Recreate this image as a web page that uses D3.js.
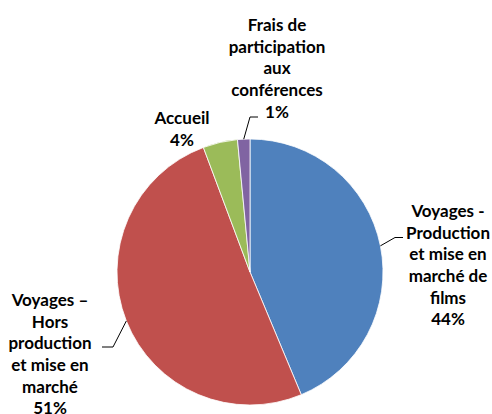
<!DOCTYPE html>
<html>
<head>
<meta charset="utf-8">
<script src="https://cdn.jsdelivr.net/npm/d3@7"></script>
<style>
  body { margin: 0; background: #fff; }
  text { font-family: Lato, "Noto Sans", sans-serif; font-weight: bold; fill: #000; }
</style>
</head>
<body>
<div id="chart"></div>
<script>
// chart data
var categories = [
  "Voyages - Production et mise en marché de films",
  "Voyages – Hors production et mise en marché",
  "Accueil",
  "Frais de participation aux conférences"
];
var values = [43.7, 50.6, 4.2, 1.5];
var pctLabels = ["44%", "51%", "4%", "1%"];
var colors = ["#4F81BD", "#C0504D", "#9BBB59", "#8064A2"];

// label lines as they wrap in the picture
var labelLines = [
  ["Voyages -", "Production", "et mise en", "marché de", "films"],
  ["Voyages –", "Hors", "production", "et mise en", "marché"],
  ["Accueil"],
  ["Frais de", "participation", "aux", "conférences"]
];

var svgWidth = 492;
var svgHeight = 414;
var cx = 250, cy = 272, radius = 133;

var svg = d3.select("#chart")
  .append("svg")
  .attr("width", svgWidth)
  .attr("height", svgHeight);

var pieGroup = svg.append("g")
  .attr("transform", `translate(${cx}, ${cy})`);

var pie = d3.pie().sort(null).value(d => d);
var arcs = pie(values);

var arc = d3.arc().innerRadius(0).outerRadius(radius);

pieGroup.selectAll("path")
  .data(arcs)
  .enter()
  .append("path")
  .attr("d", arc)
  .attr("fill", (d, i) => colors[i])
  .attr("stroke", "#fff")
  .attr("stroke-width", 0.8);

// label placement (block centre x, first line centre y) and leader elbow
var lineH = 21.7;
var labelPos = [
  { x: 448, y: 211, elbow: [395, 237.5], end: [403, 237.5] },
  { x: 50, y: 300, elbow: [113, 347], end: [102, 347] },
  { x: 182, y: 118, elbow: null, end: null },
  { x: 277, y: 25, elbow: [250, 117], end: [258, 117] }
];

function edgePoint(d) {
  var a = (d.startAngle + d.endAngle) / 2;
  return [cx + radius * Math.sin(a), cy - radius * Math.cos(a)];
}

// leader lines
arcs.forEach(function(d, i) {
  var p = labelPos[i];
  if (!p.elbow) return;
  var s = edgePoint(d);
  svg.append("polyline")
    .attr("points", [s, p.elbow, p.end].map(q => q.join(",")).join(" "))
    .attr("fill", "none")
    .attr("stroke", "#000")
    .attr("stroke-width", 1);
});

// labels
labelLines.forEach(function(lines, i) {
  var p = labelPos[i];
  var t = svg.append("text")
    .attr("text-anchor", "middle")
    .attr("font-size", 17);
  lines.concat([pctLabels[i]]).forEach(function(line, j) {
    t.append("tspan")
      .attr("x", p.x)
      .attr("y", p.y + j * lineH)
      .attr("dy", "0.35em")
      .text(line);
  });
});
</script>
</body>
</html>
